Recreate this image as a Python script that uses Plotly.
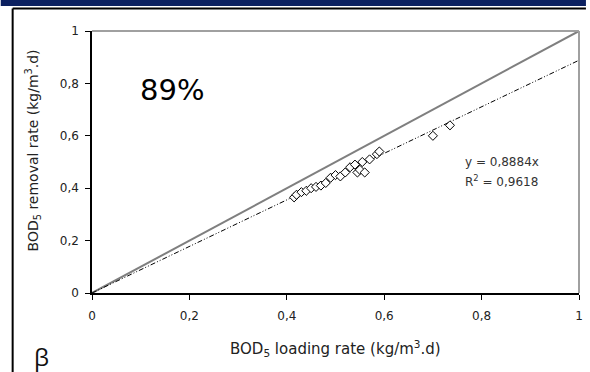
import plotly.graph_objects as go

# Data
loading_rate = [0.415, 0.42, 0.43, 0.44, 0.45, 0.46, 0.47, 0.48, 0.49, 0.50, 0.51,
                0.52, 0.53, 0.54, 0.545, 0.55, 0.555, 0.56, 0.57, 0.585, 0.59, 0.70, 0.735]
removal_rate = [0.365, 0.375, 0.385, 0.39, 0.40, 0.405, 0.41, 0.42, 0.44, 0.45, 0.445,
                0.46, 0.48, 0.49, 0.46, 0.47, 0.50, 0.46, 0.51, 0.53, 0.54, 0.60, 0.64]
trend_slope = 0.8884
r_squared = 0.9618
line_x = [0, 1]
tick_vals = [0, 0.2, 0.4, 0.6, 0.8, 1]

W, H = 590, 372
L, R, T, B = 92, 7, 31, 79
pw, ph = W - L - R, H - T - B

def px(x):
    return (x - L) / pw

def py(y):
    return (H - B - y) / ph

fig = go.Figure()
fig.add_trace(go.Scatter(x=line_x, y=line_x, mode="lines",
                         line=dict(color="#7f7f7f", width=2), hoverinfo="skip"))
fig.add_trace(go.Scatter(x=line_x, y=[trend_slope * v for v in line_x], mode="lines",
                         line=dict(color="#000000", width=1, dash="5px,2px,1px,2px,1px,2px"),
                         hoverinfo="skip"))
fig.add_trace(go.Scatter(x=loading_rate, y=removal_rate, mode="markers",
                         marker=dict(symbol="diamond", size=7, color="white",
                                     line=dict(color="black", width=1))))

axis_common = dict(range=[0, 1], tickvals=tick_vals, ticks="outside", ticklen=5,
                   tickcolor="black", tickwidth=1, showline=True, linecolor="black",
                   linewidth=1.5, showgrid=False, zeroline=False,
                   tickfont=dict(family="DejaVu Sans", size=12, color="#222"))
fig.update_xaxes(**axis_common, ticklabelstandoff=6)
fig.update_yaxes(**axis_common, ticklabelstandoff=4)

shapes = [
    dict(type="rect", xref="paper", yref="paper", x0=px(0), x1=px(W), y0=py(0), y1=py(6),
         fillcolor="#0b2060", line=dict(width=0), layer="above"),
    dict(type="line", xref="paper", yref="paper", x0=px(12), x1=px(W), y0=py(8.5), y1=py(8.5),
         line=dict(color="black", width=2)),
    dict(type="line", xref="paper", yref="paper", x0=px(12), x1=px(12), y0=py(8.5), y1=py(H),
         line=dict(color="black", width=2)),
    dict(type="line", xref="paper", yref="paper", x0=0, x1=1, y0=1, y1=1,
         line=dict(color="#a0a0a0", width=2)),
    dict(type="line", xref="paper", yref="paper", x0=1, x1=1, y0=0, y1=1,
         line=dict(color="#a0a0a0", width=2)),
]

slope_txt = ("%.4f" % trend_slope).replace(".", ",")
r2_txt = ("%.4f" % r_squared).replace(".", ",")

annotations = [
    dict(text="89%", xref="paper", yref="paper", x=px(173), y=py(90), showarrow=False,
         font=dict(family="DejaVu Sans", size=29, color="black"), xanchor="center", yanchor="middle"),
    dict(text="β", xref="paper", yref="paper", x=px(41), y=py(356), showarrow=False,
         font=dict(family="Open Sans", size=24, color="#111"), xanchor="center", yanchor="middle"),
    dict(text="y = %sx" % slope_txt,
         xref="paper", yref="paper", x=px(466), y=py(162), showarrow=False, align="left",
         font=dict(family="DejaVu Sans", size=12, color="#333"), xanchor="left", yanchor="middle"),
    dict(text="R<sup>2</sup> = %s" % r2_txt,
         xref="paper", yref="paper", x=px(466), y=py(181), showarrow=False, align="left",
         font=dict(family="DejaVu Sans", size=12, color="#333"), xanchor="left", yanchor="middle"),
    dict(text="BOD<sub>5</sub> removal rate (kg/m<sup>3</sup>.d)", xref="paper", yref="paper",
         x=px(33), y=py(150), showarrow=False, textangle=-90,
         font=dict(family="DejaVu Sans", size=14, color="#222"), xanchor="center", yanchor="middle"),
    dict(text="BOD<sub>5</sub> loading rate (kg/m<sup>3</sup>.d)", xref="paper", yref="paper",
         x=px(337), y=py(348), showarrow=False,
         font=dict(family="DejaVu Sans", size=15, color="#222"), xanchor="center", yanchor="middle"),
]

fig.update_layout(width=W, height=H, margin=dict(l=L, r=R, t=T, b=B),
                  paper_bgcolor="white", plot_bgcolor="white", showlegend=False,
                  separators=", ", shapes=shapes, annotations=annotations)

fig.write_html("out.html")
